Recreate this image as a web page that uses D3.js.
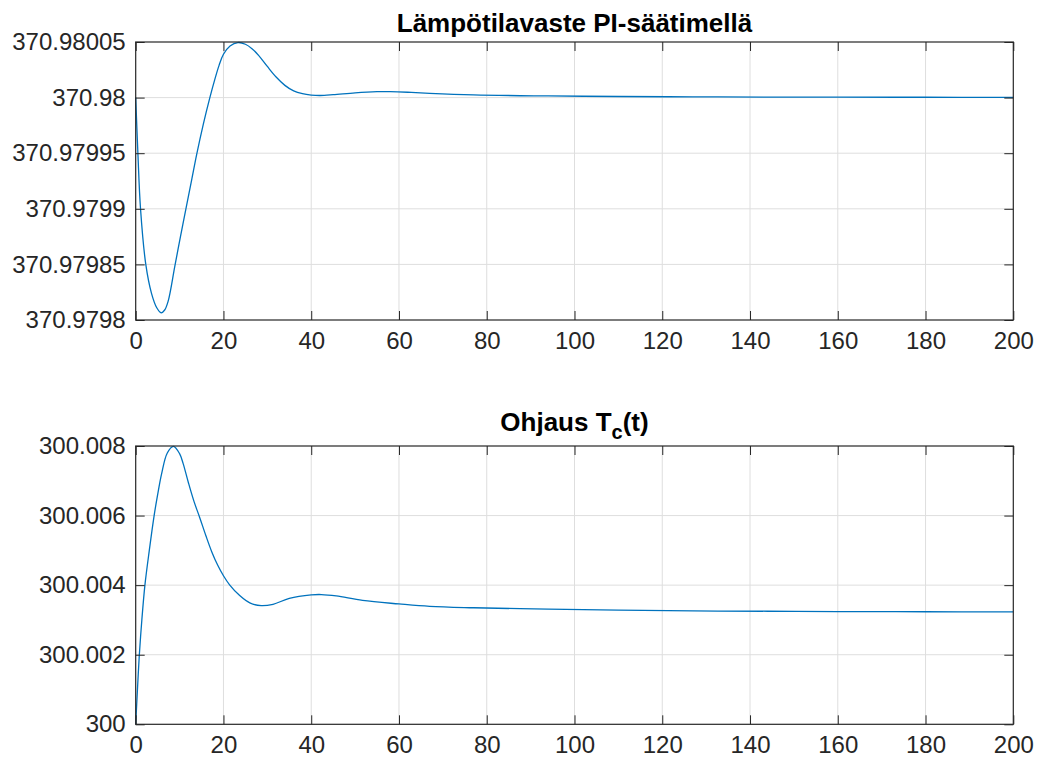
<!DOCTYPE html>
<html>
<head>
<meta charset="utf-8">
<script src="https://cdn.jsdelivr.net/npm/d3@7"></script>
<style>
  html, body { margin: 0; padding: 0; background: #ffffff; }
  svg { display: block; }
</style>
</head>
<body>
<svg id="fig" width="1041" height="763"></svg>
<script>
// Time axis (s) and tick values
const xTicks = [0, 20, 40, 60, 80, 100, 120, 140, 160, 180, 200];

// Upper panel: reactor temperature with PI control
const tempTime = [0, 0.5, 1.1, 2.3, 3.6, 4.8, 5.8, 6.6, 7.4, 8.9, 10.2, 11.6, 12.8, 13.9, 15.4, 16.9, 18.0, 19.0, 20.0, 21.5, 23.3, 25.0, 26.5, 28.0, 30.0, 32.0, 34.0, 36.0, 38.0, 40.0, 42.0, 45.0, 50.0, 55.0, 58.0, 62.0, 67.0, 77.0, 94.0, 110.0, 127.0, 144.0, 160.0, 180.0, 200.0];
const tempValue = [370.9800000, 370.9799500, 370.9799000, 370.9798500, 370.9798240, 370.9798110, 370.9798065, 370.9798090, 370.9798170, 370.9798480, 370.9798750, 370.9799030, 370.9799270, 370.9799490, 370.9799760, 370.9800000, 370.9800160, 370.9800290, 370.9800390, 370.9800465, 370.9800495, 370.9800480, 370.9800440, 370.9800380, 370.9800280, 370.9800185, 370.9800110, 370.9800060, 370.9800035, 370.9800023, 370.9800019, 370.9800026, 370.9800043, 370.9800053, 370.9800053, 370.9800048, 370.9800038, 370.9800024, 370.9800015, 370.9800010, 370.9800007, 370.9800005, 370.9800004, 370.9800003, 370.9800002];
const tempTicks = [370.9798, 370.97985, 370.9799, 370.97995, 370.98, 370.98005];
const tempTickLabels = ["370.9798", "370.97985", "370.9799", "370.97995", "370.98", "370.98005"];

// Lower panel: coolant temperature control signal Tc(t)
const ctrlTime = [0, 0.4, 0.8, 1.4, 2.1, 3.1, 4.2, 5.0, 5.9, 7.2, 8.6, 10.0, 10.8, 12.0, 13.3, 14.6, 16.0, 17.3, 18.7, 20.0, 21.4, 23.7, 26.0, 28.6, 31.3, 35.0, 40.0, 42.3, 45.7, 51.7, 60.0, 67.0, 77.0, 94.0, 110.0, 127.0, 144.0, 160.0, 180.0, 200.0];
const ctrlValue = [300.00000, 300.00100, 300.00194, 300.00300, 300.00400, 300.00500, 300.00600, 300.00660, 300.00720, 300.00780, 300.00799, 300.00778, 300.00750, 300.00695, 300.00640, 300.00594, 300.00542, 300.00497, 300.00457, 300.00427, 300.00401, 300.00370, 300.00349, 300.00341, 300.00345, 300.00362, 300.00372, 300.00373, 300.00369, 300.00356, 300.00346, 300.00339, 300.00335, 300.00331, 300.00328, 300.00326, 300.00325, 300.00324, 300.003235, 300.00323];
const ctrlTicks = [300, 300.002, 300.004, 300.006, 300.008];
const ctrlTickLabels = ["300", "300.002", "300.004", "300.006", "300.008"];

const svg = d3.select("#fig");
const left = 135.7, right = 1013.3;
const lineColor = "#0072BD";
const font = '"Liberation Sans", Arial, sans-serif';

function panel(cfg) {
  const x = d3.scaleLinear().domain([0, 200]).range([left, right]);
  const y = d3.scaleLinear().domain(cfg.yDomain).range([cfg.bottom, cfg.top]);
  const g = svg.append("g");

  // grid
  g.append("g").selectAll("line").data(xTicks.slice(1, -1)).join("line")
    .attr("x1", d => x(d)).attr("x2", d => x(d))
    .attr("y1", cfg.top).attr("y2", cfg.bottom)
    .attr("stroke", "#dedede").attr("stroke-width", 1);
  g.append("g").selectAll("line").data(cfg.yTicks.slice(1, -1)).join("line")
    .attr("x1", left).attr("x2", right)
    .attr("y1", d => y(d)).attr("y2", d => y(d))
    .attr("stroke", "#dedede").attr("stroke-width", 1);

  // data line
  const pts = cfg.t.map((t, i) => [t, cfg.v[i]]);
  g.append("path")
    .datum(pts)
    .attr("fill", "none")
    .attr("stroke", lineColor)
    .attr("stroke-width", 1.3)
    .attr("d", d3.line().x(d => x(d[0])).y(d => y(d[1])).curve(d3.curveCatmullRom.alpha(0.5)));

  const labelFor = (ticks, labels) => v => labels[ticks.indexOf(v)];

  // axes with inward ticks on all four sides
  const ax = g.append("g").attr("transform", `translate(0,${cfg.bottom})`)
    .call(d3.axisBottom(x).tickValues(xTicks).tickSize(-9).tickPadding(12).tickFormat(d3.format("d")));
  const axT = g.append("g").attr("transform", `translate(0,${cfg.top})`)
    .call(d3.axisTop(x).tickValues(xTicks).tickSize(-9).tickFormat(""));
  const ay = g.append("g").attr("transform", `translate(${left},0)`)
    .call(d3.axisLeft(y).tickValues(cfg.yTicks).tickSize(-9).tickPadding(10)
      .tickFormat(labelFor(cfg.yTicks, cfg.yLabels)));
  const ayR = g.append("g").attr("transform", `translate(${right},0)`)
    .call(d3.axisRight(y).tickValues(cfg.yTicks).tickSize(-9).tickFormat(""));

  [ax, axT, ay, ayR].forEach(a => {
    a.select(".domain").remove();
    a.selectAll(".tick line").attr("stroke", "#262626").attr("stroke-width", 1);
    a.selectAll(".tick text").attr("font-size", 24).attr("font-family", font).attr("fill", "#262626");
  });

  // box
  g.append("rect")
    .attr("x", left).attr("y", cfg.top)
    .attr("width", right - left).attr("height", cfg.bottom - cfg.top)
    .attr("fill", "none").attr("stroke", "#262626").attr("stroke-width", 1.2);

  return { x, y, g };
}

panel({
  top: 42, bottom: 320,
  yDomain: [370.9798, 370.98005],
  yTicks: tempTicks, yLabels: tempTickLabels,
  t: tempTime, v: tempValue
});

panel({
  top: 446, bottom: 724.3,
  yDomain: [300, 300.008],
  yTicks: ctrlTicks, yLabels: ctrlTickLabels,
  t: ctrlTime, v: ctrlValue
});

// titles
svg.append("text")
  .attr("x", (left + right) / 2).attr("y", 31.5)
  .attr("text-anchor", "middle")
  .attr("font-family", font).attr("font-weight", "bold").attr("font-size", 26)
  .attr("fill", "#000")
  .text("Lämpötilavaste PI-säätimellä");

const t2 = svg.append("text")
  .attr("x", (left + right) / 2).attr("y", 431)
  .attr("text-anchor", "middle")
  .attr("font-family", font).attr("font-weight", "bold").attr("font-size", 26)
  .attr("fill", "#000");
t2.append("tspan").text("Ohjaus T");
t2.append("tspan").attr("dy", 8).attr("font-size", 20).text("c");
t2.append("tspan").attr("dy", -8).text("(t)");
</script>
</body>
</html>
